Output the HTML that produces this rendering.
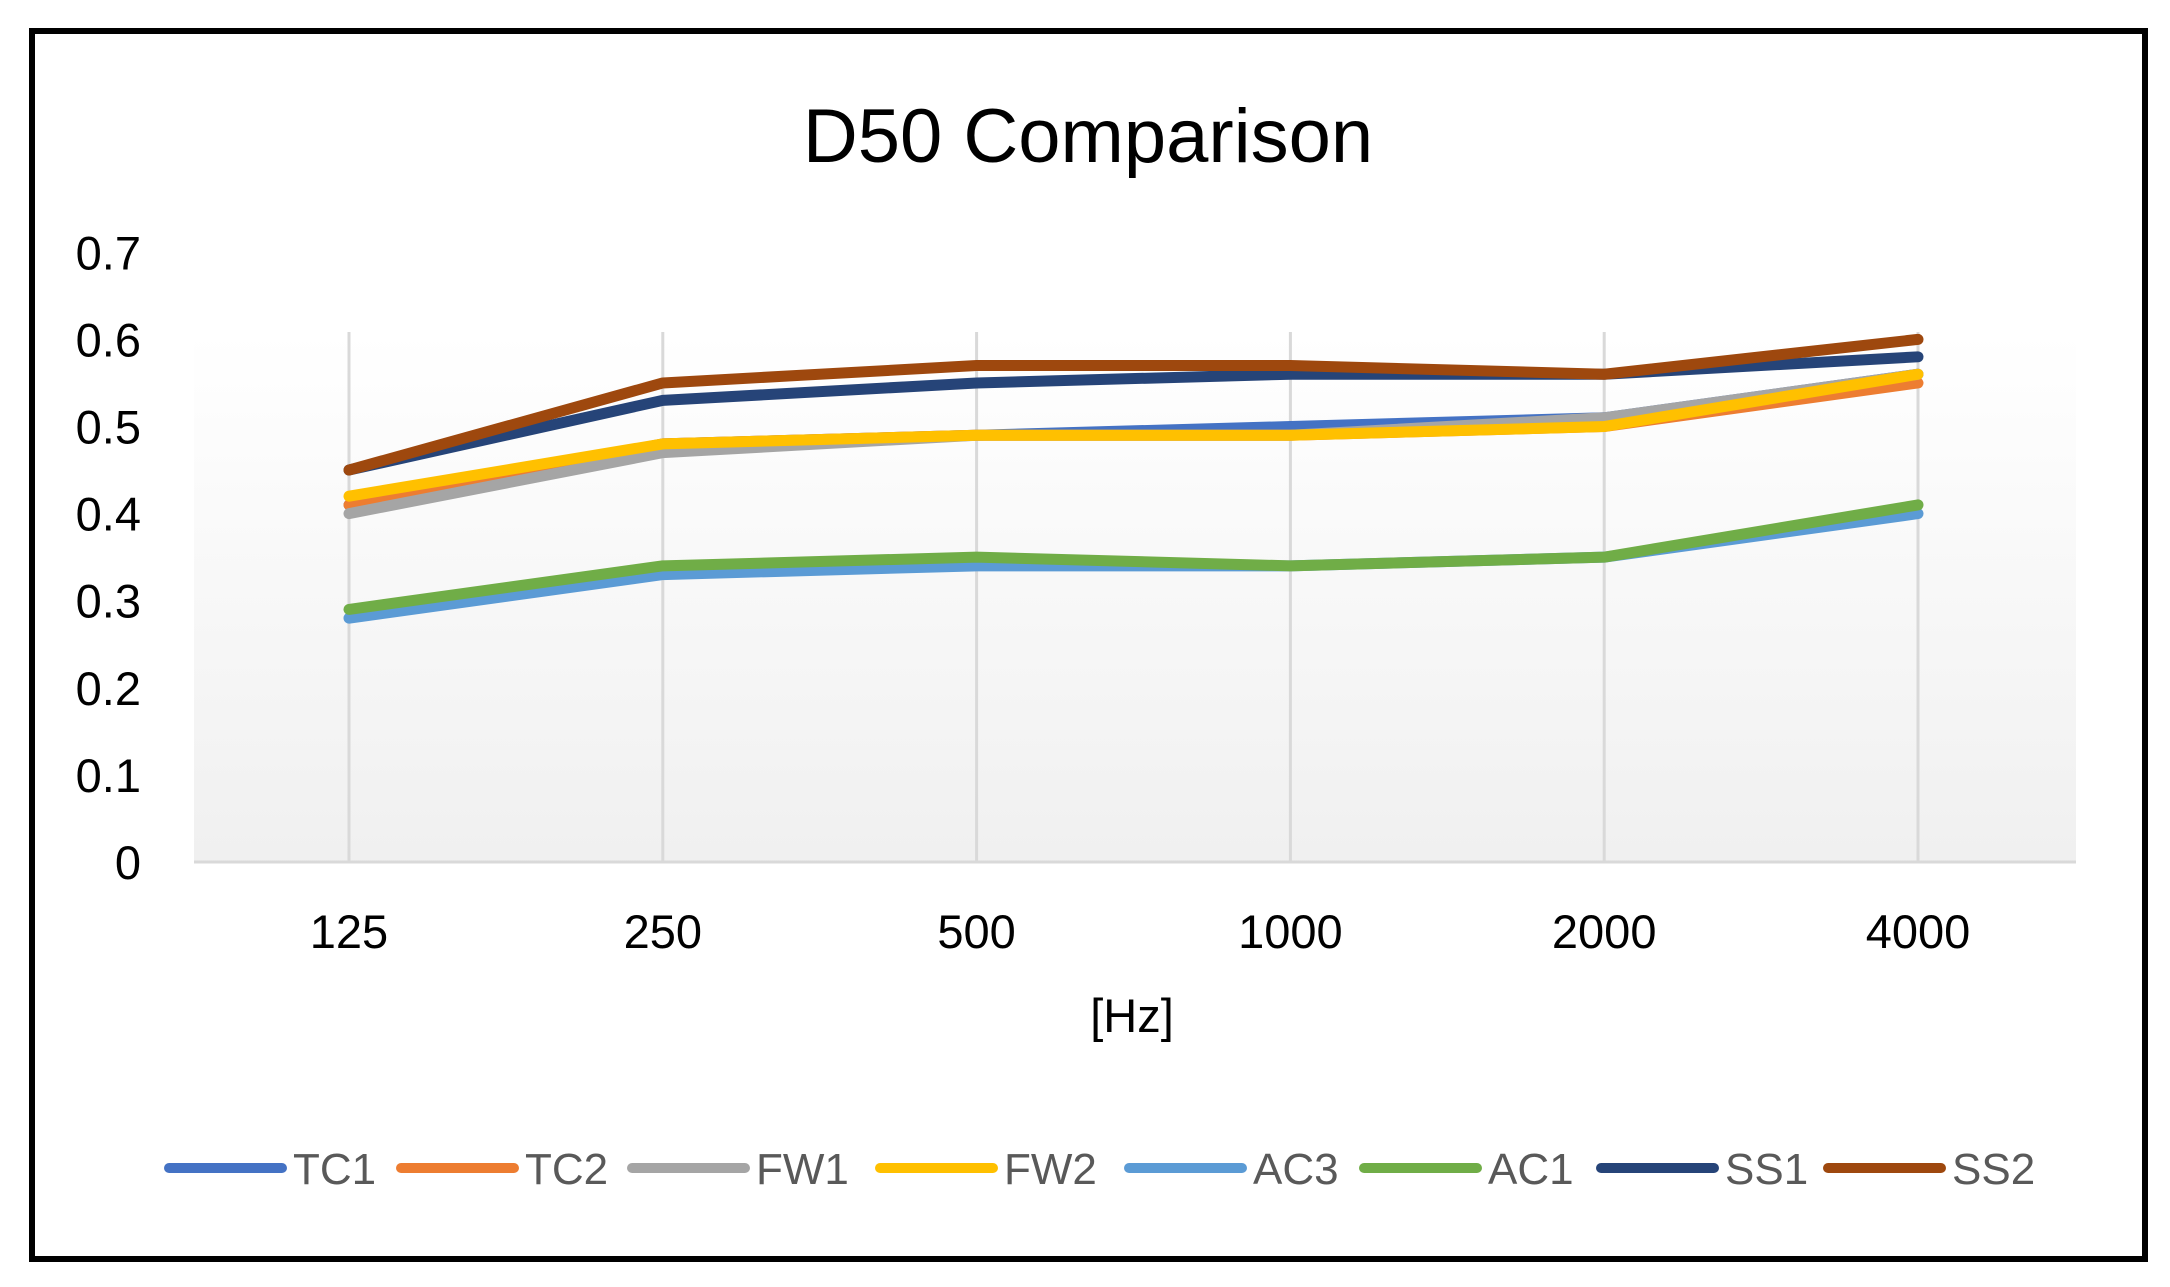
<!DOCTYPE html>
<html><head><meta charset="utf-8"><style>
html,body{margin:0;padding:0;background:#fff;}
svg{display:block;font-family:"Liberation Sans",sans-serif;}
</style></head><body>
<svg id="chart" width="2170" height="1287" viewBox="0 0 2170 1287">
<defs><linearGradient id="bg" x1="0" y1="0" x2="0" y2="1"><stop offset="0" stop-color="#ffffff"/><stop offset="1" stop-color="#f0f0f0"/></linearGradient></defs>
<rect x="32" y="31" width="2113" height="1228" fill="#fff" stroke="#000" stroke-width="6"/>
<rect x="194" y="332" width="1882" height="530" fill="url(#bg)"/>
<text x="1088" y="162" font-size="76" text-anchor="middle" fill="#000">D50 Comparison</text>
<text x="1132" y="1032" font-size="47" text-anchor="middle" fill="#000">[Hz]</text>
<g id="grid"></g><g id="yticks"></g><g id="xticks"></g><g id="series"></g><g id="legend"></g>
</svg>
<script>
const categories=["125","250","500","1000","2000","4000"];
const yTicks=[0,0.1,0.2,0.3,0.4,0.5,0.6,0.7];
const yTickLabels=["0","0.1","0.2","0.3","0.4","0.5","0.6","0.7"];
const seriesNames=["TC1","TC2","FW1","FW2","AC3","AC1","SS1","SS2"];
const TC1=[0.41,0.48,0.49,0.50,0.51,0.56];
const TC2=[0.41,0.48,0.49,0.49,0.50,0.55];
const FW1=[0.40,0.47,0.49,0.49,0.51,0.56];
const FW2=[0.42,0.48,0.49,0.49,0.50,0.56];
const AC3=[0.28,0.33,0.34,0.34,0.35,0.40];
const AC1=[0.29,0.34,0.35,0.34,0.35,0.41];
const SS1=[0.45,0.53,0.55,0.56,0.56,0.58];
const SS2=[0.45,0.55,0.57,0.57,0.56,0.60];
const seriesValues=[TC1,TC2,FW1,FW2,AC3,AC1,SS1,SS2];
const colors=["#4472C4","#ED7D31","#A5A5A5","#FFC000","#5B9BD5","#70AD47","#264478","#9E480E"];
const NS="http://www.w3.org/2000/svg";
const x=i=>349+i*313.8;
const y=v=>862-v*871;
function mk(t,p,a){const e=document.createElementNS(NS,t);for(const k in a)e.setAttribute(k,a[k]);p.appendChild(e);return e;}
const grid=document.getElementById('grid'),xt=document.getElementById('xticks'),yt=document.getElementById('yticks'),sg=document.getElementById('series'),lg=document.getElementById('legend');
categories.forEach((c,i)=>{
 const g=mk('line',grid,{x1:x(i),x2:x(i),y1:332,y2:862,stroke:'#d9d9d9','stroke-width':3});
 
 
 const t=mk('text',xt,{x:x(i),y:948,'font-size':47,'text-anchor':'middle',fill:'#000'});t.textContent=c;
 
 
});
const ax=mk('line',grid,{x1:194,x2:2076,y1:y(0),y2:y(0),stroke:'#d9d9d9','stroke-width':3});


yTicks.forEach((v,i)=>{
 const t=mk('text',yt,{x:141,y:y(v)+17,'font-size':47,'text-anchor':'end',fill:'#000'});t.textContent=yTickLabels[i];
 
 
});
seriesValues.forEach((vals,s)=>{
 const p=mk('polyline',sg,{points:vals.map((v,i)=>x(i)+','+y(v)).join(' '),fill:'none',stroke:colors[s],'stroke-width':11,'stroke-linecap':'round','stroke-linejoin':'round'});
 
 
});
const legX=[169,401,632,880,1129,1364,1601,1828];
seriesNames.forEach((n,s)=>{
 const g=mk('g',lg,{});
 
 
 mk('line',g,{x1:legX[s],x2:legX[s]+113,y1:1168,y2:1168,stroke:colors[s],'stroke-width':10,'stroke-linecap':'round'});
 const t=mk('text',g,{x:legX[s]+124,y:1184,'font-size':44,fill:'#595959'});t.textContent=n;
});
</script>
</body></html>
